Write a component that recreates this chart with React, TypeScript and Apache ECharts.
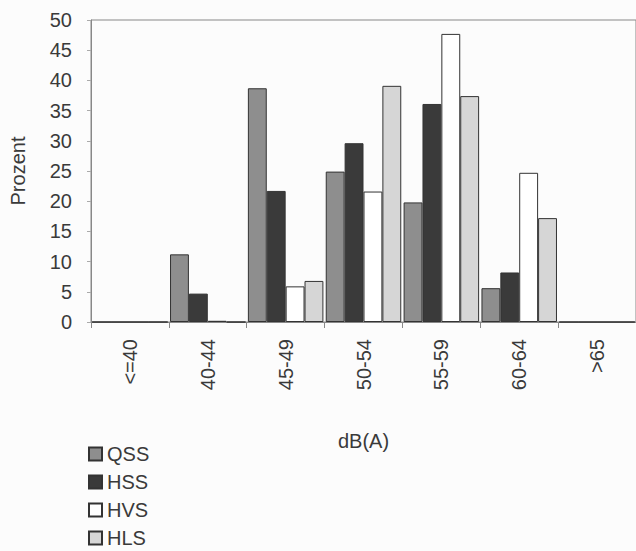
import React, { useEffect, useRef } from "react";
import * as echarts from "echarts";

const categories = ["<=40", "40-44", "45-49", "50-54", "55-59", "60-64", ">65"];
const seriesNames = ["QSS", "HSS", "HVS", "HLS"];
const qss = [0, 11.2, 38.7, 24.9, 19.8, 5.6, 0];
const hss = [0, 4.7, 21.7, 29.6, 36.1, 8.2, 0];
const hvs = [0, 0.2, 5.9, 21.6, 47.7, 24.7, 0];
const hls = [0, 0, 6.8, 39.1, 37.4, 17.2, 0];
const yTicks = [0, 5, 10, 15, 20, 25, 30, 35, 40, 45, 50];

const FONT = "Liberation Sans, Arial, sans-serif";
const FS = 20;
const TXT = "#3a3a3a";

export default function App() {
  const ref = useRef<HTMLDivElement>(null);
  useEffect(() => {
    if (!ref.current) return;
    const chart = echarts.init(ref.current, undefined, { renderer: "svg" });
    const mk = (name: string, data: number[], color: string) => ({
      name,
      type: "bar",
      data,
      barGap: "0%",
      barCategoryGap: "3%",
      itemStyle: { color, borderColor: "#333", borderWidth: 1 },
    });
    const legendTops = [444, 472, 500, 528];
    chart.setOption({
      animation: false,
      backgroundColor: "#fcfcfc",
      textStyle: { fontFamily: FONT },
      grid: {
        left: 87,
        top: 20,
        width: 557,
        height: 302,
        show: true,
        borderColor: "#888",
        borderWidth: 1,
        backgroundColor: "transparent",
      },
      legend: seriesNames.map((n, i) => ({
        orient: "vertical",
        left: 88,
        top: legendTops[i],
        itemWidth: 13,
        itemHeight: 13,
        padding: 0,
        icon: "rect",
        textStyle: { fontSize: FS, color: TXT, fontFamily: FONT },
        data: [n],
      })),
      xAxis: {
        type: "category",
        data: categories,
        name: "dB(A)",
        nameLocation: "middle",
        nameGap: 109,
        nameTextStyle: { fontSize: FS, color: TXT, fontFamily: FONT },
        axisLine: { lineStyle: { color: "#888" } },
        axisTick: { show: true, alignWithLabel: false, length: 6, lineStyle: { color: "#888" } },
        axisLabel: { rotate: 90, fontSize: FS, color: TXT, margin: 17, fontFamily: FONT },
      },
      yAxis: {
        type: "value",
        min: 0,
        max: 50,
        interval: 5,
        name: "Prozent",
        nameLocation: "middle",
        nameGap: 63,
        nameRotate: 90,
        nameTextStyle: { fontSize: FS, color: TXT, fontFamily: FONT },
        axisLine: { show: true, lineStyle: { color: "#888" } },
        axisTick: { show: true, length: 4, lineStyle: { color: "#aaa" } },
        splitLine: { show: false },
        axisLabel: { fontSize: FS, color: TXT, margin: 19, fontFamily: FONT,
          formatter: (v: number) => (yTicks.includes(v) ? String(v) : "") },
      },
      series: [
        mk(seriesNames[0], qss, "#8e8e8e"),
        mk(seriesNames[1], hss, "#3a3a3a"),
        mk(seriesNames[2], hvs, "#ffffff"),
        mk(seriesNames[3], hls, "#d6d6d6"),
      ],
    });
    return () => chart.dispose();
  }, []);
  return (
    <div
      ref={ref}
      style={{ position: "fixed", left: 0, top: 0, width: 636, height: 551 }}
    />
  );
}
